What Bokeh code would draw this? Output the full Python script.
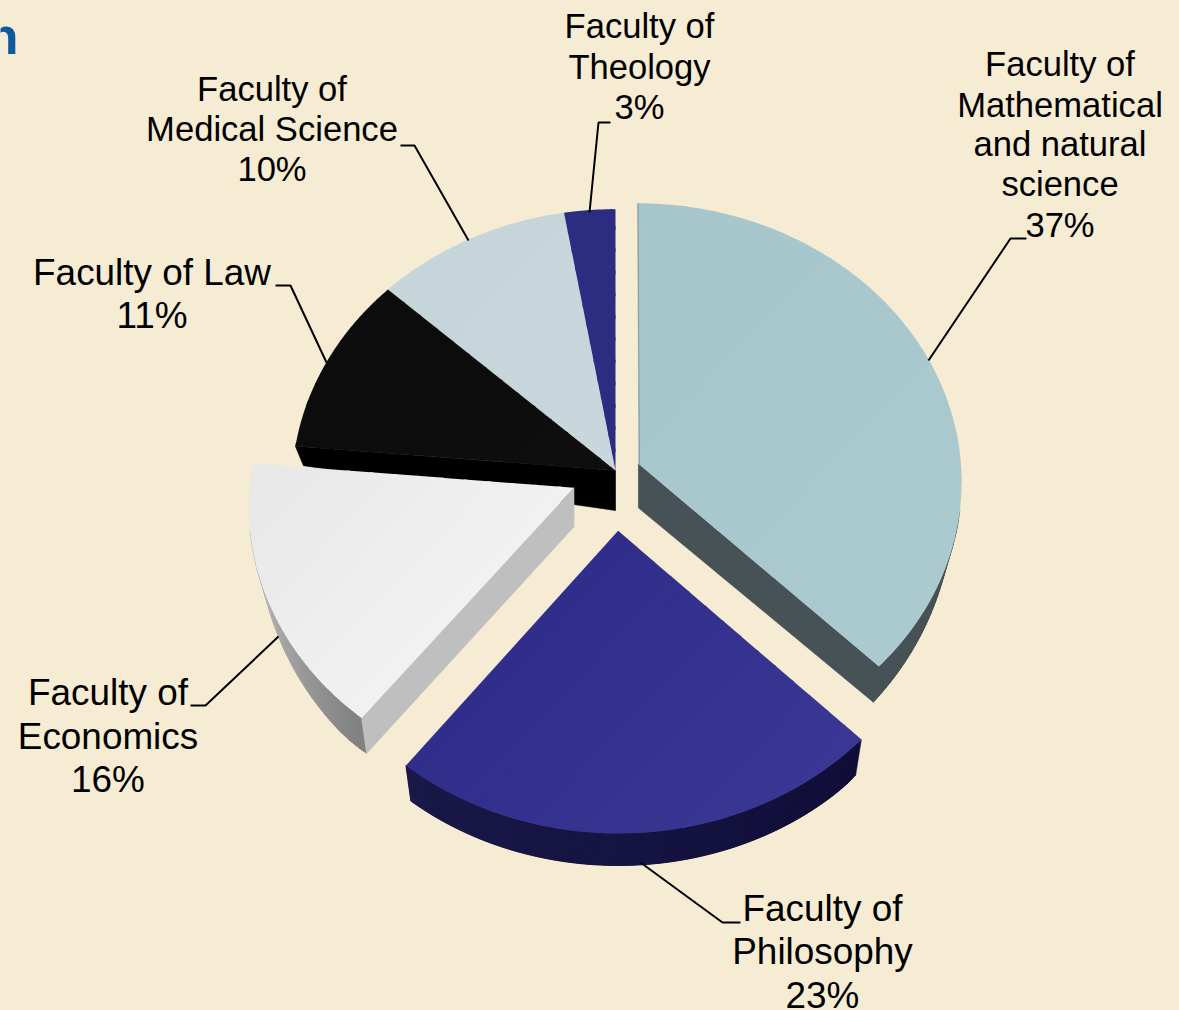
import numpy as np
from bokeh.plotting import figure
from bokeh.embed import file_html
from bokeh.resources import INLINE
from bokeh.core.properties import value

# ---- data ----
categories = ["Faculty of Mathematical and natural science", "Faculty of Philosophy", "Faculty of Economics",
              "Faculty of Law", "Faculty of Medical Science", "Faculty of Theology"]
shares = [37.4, 23.2, 15.8, 10.5, 10.4, 2.7]
labels_pct = ["37%", "23%", "16%", "11%", "10%", "3%"]

# ---- styles ----
BG = "#f6ecd3"
top_from = ["#abcacf", "#393793", "#f1f1f1", "#0e0e0e", "#c7d7dc", "#2c2c80"]
top_to = ["#a7c6cb", "#302e8a", "#e8e8e8", "#0c0c0c", "#c5d5da", "#2c2c80"]
face_col = ["#465255", "#14123c", "#bfbfbf", "#000000", "#8a9a9e", "#16163f"]
rim_from = ["#465255", "#100e38", "#808080", "#000000", "#8a9a9e", "#16163f"]
rim_to = ["#465255", "#1a1848", "#c4c4c4", "#000000", "#8a9a9e", "#16163f"]
explode = [(0.071, 0.024), (0.008, -0.215), (-0.128, -0.062), (0, 0), (0, 0), (0, 0)]
hub_depth = [44, 40, 39, 40, 40, 40]
draw_order = [4, 5, 3, 0, 2, 1]
end_face = [(1,), (), (0,), (0,), (), ()]      # 0: first cut face shown, 1: last cut face shown
has_rim = [True, True, True, False, False, False]

CX, CY, RX, RY, PERSP = 615.0, 470.0, 323.0, 277.0, 0.06

p = figure(width=1179, height=1010, x_range=(0, 1179), y_range=(1010, 0), toolbar_location=None,
           output_backend="svg", background_fill_color=BG, border_fill_color=BG,
           min_border=0, outline_line_color=None)
p.axis.visible = False
p.grid.visible = False


def project(a, b):
    w = 1 + PERSP * b
    return CX + RX * a / w, CY - RY * b / w


def mix(c1, c2, t):
    x = [int(c1[i:i + 2], 16) for i in (1, 3, 5)]
    y = [int(c2[i:i + 2], 16) for i in (1, 3, 5)]
    return "#%02x%02x%02x" % tuple(int(round(u + (v - u) * t)) for u, v in zip(x, y))


def clip(poly, n, lim, keep_below):
    out = []
    m = len(poly)
    for i in range(m):
        P, Q = poly[i], poly[(i + 1) % m]
        dp, dq = P[0] * n[0] + P[1] * n[1] - lim, Q[0] * n[0] + Q[1] * n[1] - lim
        if not keep_below:
            dp, dq = -dp, -dq
        if dp <= 0:
            out.append(P)
        if dp * dq < 0:
            t = dp / (dp - dq)
            out.append((P[0] + (Q[0] - P[0]) * t, P[1] + (Q[1] - P[1]) * t))
    return out


def rim_shift(th):
    c = np.abs(np.cos(th))
    d = 17 + 19 * np.minimum(1, c * 1.4) - 4 * np.maximum(0, (c - 0.75) / 0.25)
    return -8 * np.sin(th), d


fracs = np.array(shares) / sum(shares)
ends = np.cumsum(fracs) * 2 * np.pi
starts = ends - fracs * 2 * np.pi
GRAD = np.array([0.72, 0.69])

for i in draw_order:
    th = np.linspace(starts[i], ends[i], 120)
    ea, eb = explode[i]
    rx, ry = project(ea + np.sin(th), eb + np.cos(th))
    vx, vy = project(ea, eb)
    dx, dy = rim_shift(th)
    bx, by = rx + dx, ry + dy
    # rim side, shaded piece by piece; each piece runs under the next to hide seams
    if has_rim[i]:
        vis = np.where(np.cos(th) < -0.15)[0]
        for n, j in enumerate(vis[:-1]):
            t = n / max(1, len(vis) - 2)
            c = mix(rim_from[i], rim_to[i], t)
            e = min(j + 3, vis[-1])
            p.patch([rx[j], rx[e], bx[e], bx[j]], [ry[j], ry[e], by[e], by[j]],
                    fill_color=c, line_color=c, line_width=0.4)
    # radial side faces
    for k in end_face[i]:
        q = -1 if k == 1 else 0
        p.patch([vx, rx[q], bx[q], vx], [vy, ry[q], by[q], vy + hub_depth[i]],
                fill_color=face_col[i], line_color=face_col[i], line_width=0.6)
    # top surface in gradient bands
    poly = [(vx, vy)] + list(zip(rx, ry))
    proj = [q[0] * GRAD[0] + q[1] * GRAD[1] for q in poly]
    lo, hi = min(proj), max(proj)
    nb = 14
    for b in range(nb):
        part = clip(poly, GRAD, lo + (hi - lo) * b / nb, False)
        part = clip(part, GRAD, lo + (hi - lo) * (b + 1) / nb + 2.5, True) if part else part
        if len(part) >= 3:
            p.patch([q[0] for q in part], [q[1] for q in part],
                    fill_color=mix(top_from[i], top_to[i], 1 - b / (nb - 1)), line_color=None)

# faint darker edge on the left cut of the largest slice
ex0, ey0 = project(explode[0][0], explode[0][1])
ex1, ey1 = project(explode[0][0], explode[0][1] + 1)
p.line([ex0 + 1, ex1 + 1], [ey0, ey1], line_color="#8a9c9e", line_width=1)

# leader lines
leaders = [
    ([1026, 1010, 928], [238, 238, 360]),
    ([640, 722, 740], [862, 922, 922]),
    ([278, 205, 190], [636, 705, 705]),
    ([326, 290, 275], [362, 285, 285]),
    ([468, 414, 400], [240, 145, 145]),
    ([589, 598, 610], [212, 122, 122]),
]
for lx, ly in leaders:
    p.line(lx, ly, line_color="#000000", line_width=2)

# labels
label_lines = [
    (["Faculty of", "Mathematical", "and natural", "science", labels_pct[0]], 1059.5, [63, 104, 143, 183, 224], 34.6),
    (["Faculty of", "Philosophy", labels_pct[1]], 822, [908, 951, 995], 36.9),
    (["Faculty of", "Economics", labels_pct[2]], 107.5, [692, 736, 779], 36.9),
    (["Faculty of Law", labels_pct[3]], 151.5, [272, 315], 36.9),
    (["Faculty of", "Medical Science", labels_pct[4]], 271.5, [88, 128, 168], 34.6),
    (["Faculty of", "Theology", labels_pct[5]], 639, [25, 66, 106], 34.6),
]
for lines, x, ys, size in label_lines:
    p.text([x] * len(lines), ys, text=lines, text_font=value("Liberation Sans"), text_font_size=f"{size}px",
           text_color="#000000", text_align="center", text_baseline="middle")

# clipped title letter at the top left edge
p.text([18], [35], text=["n"], text_font=value("Liberation Sans"), text_font_style="bold",
       text_font_size="52px", text_color="#0f5a9e", text_align="right", text_baseline="alphabetic")

html = file_html(p, INLINE)
html = html.replace("<body>", f'<body style="margin:0;overflow:hidden;background:{BG}">')
open("out.html", "w").write(html)
